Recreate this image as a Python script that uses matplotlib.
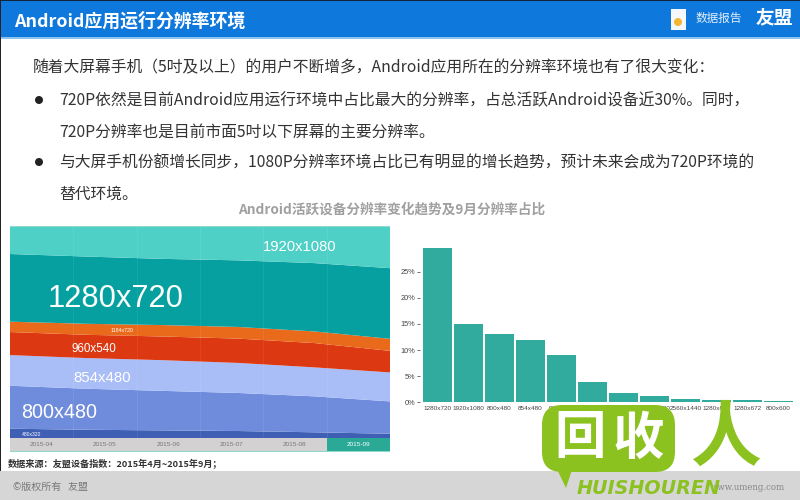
import matplotlib
matplotlib.use("Agg")
import matplotlib.pyplot as plt
from matplotlib.patches import Rectangle, FancyBboxPatch, Polygon, Circle

plt.rcParams['font.family'] = ['Noto Sans CJK SC', 'DejaVu Sans']

months = ["2015-04", "2015-05", "2015-06", "2015-07", "2015-08", "2015-09"]
s480x320 = [4.4, 3.9, 3.6, 3.3, 2.7, 2.0]
s800x480 = [20.3, 19.4, 18.7, 18.0, 17.0, 15.3]
s854x480 = [14.5, 14.5, 14.5, 14.2, 13.7, 13.7]
s960x540 = [10.9, 11.0, 11.2, 11.5, 11.5, 10.2]
s1184x720 = [4.9, 5.2, 5.4, 5.5, 5.5, 5.7]
s1280x720 = [32.0, 31.8, 31.3, 31.5, 32.3, 33.4]
s1920x1080 = [13.1, 14.2, 15.3, 16.1, 17.3, 19.7]
area_colors = ["#3f5fb5", "#6f8cdc", "#a9bdf7", "#dc3812", "#ea6a1c", "#06a0a0", "#4fd0c6"]

res_labels = ["1280x720", "1920x1080", "800x480", "854x480", "960x540", "1184x720",
              "480x320", "1776x1080", "2560x1440", "1280x800", "1280x672", "800x600"]
res_values = [29.6, 14.9, 13.1, 11.9, 9.05, 3.95, 1.7, 1.3, 0.6, 0.45, 0.4, 0.3]
pct_ticks = [0, 5, 10, 15, 20, 25]

W, H = 800, 500
fig = plt.figure(figsize=(8, 5), dpi=100, facecolor="white")


def box(x0, y0, x1, y1):
    return [x0 / W, 1 - y1 / H, (x1 - x0) / W, (y1 - y0) / H]


# stacked area
ax = fig.add_axes(box(10, 226.5, 390, 438))
ax.stackplot(range(len(months)), s480x320, s800x480, s854x480, s960x540, s1184x720,
             s1280x720, s1920x1080, colors=area_colors, linewidth=0)
ax.set_xlim(0, len(months) - 1)
ax.set_ylim(0, 100)
ax.axis("off")
for i in range(1, len(months)):
    ax.axvline(i * (len(months) - 1) / len(months), color="white", alpha=0.07, lw=0.8)

lab = dict(color="white", family=["Liberation Sans", "DejaVu Sans"], va="center", ha="left")

# month strip
st = fig.add_axes(box(10, 438, 390, 451))
st.bar(range(len(months)), [1] * len(months), width=1,
       color=["#d3d1d1"] * 5 + ["#2aa996"], edgecolor="none")
st.set_xlim(-0.5, 5.5)
st.set_ylim(0, 1)
st.axis("off")
for i, m in enumerate(months):
    st.text(i, 0.5, m, ha="center", va="center", fontsize=4.6,
            color="white" if i == 5 else "#777777", family=["Liberation Sans"])

# bars
bx = fig.add_axes(box(420, 245.5, 795, 402.3))
bx.bar(range(len(res_values)), res_values, width=0.95, color="#30ab9d")
bx.set_xlim(-0.56, 11.53)
bx.set_ylim(0, 30)
bx.set_xticks(range(len(res_labels)))
bx.set_xticklabels(res_labels, fontsize=4.6, color="#444444", family=["Liberation Sans"])
bx.set_yticks(pct_ticks)
bx.set_yticklabels([f"{t}%" for t in pct_ticks], fontsize=5.3, color="#444444",
                   family=["Liberation Sans"])
bx.tick_params(axis="x", length=0, pad=3)
bx.tick_params(axis="y", length=2, width=0.6, color="#555555", pad=1.5)
for sp in bx.spines.values():
    sp.set_visible(False)

# page overlay in pixel coordinates
ov = fig.add_axes([0, 0, 1, 1], facecolor="none")
ov.set_xlim(0, W)
ov.set_ylim(H, 0)
ov.axis("off")
ov.set_zorder(5)

ov.add_patch(Rectangle((0, 0), 800, 37, color="#0f78dc", lw=0))
ov.add_patch(Rectangle((0, 37), 800, 1.5, color="#8cc4f0", lw=0))
ov.add_patch(Rectangle((0, 0), 800, 1, color="#12243c", lw=0))
ov.add_patch(Rectangle((0, 0), 1, 500, color="#222222", lw=0))
ov.add_patch(Rectangle((0, 499), 800, 1, color="#222222", lw=0))
ov.add_patch(Rectangle((0, 471), 800, 29, color="#d6d6d6", lw=0))
ov.add_patch(Rectangle((10, 451), 380, 1, color="#8fd8ca", lw=0))
ov.add_patch(Rectangle((10, 226), 380, 0.8, color="#8fd8ca", lw=0))

ov.text(14, 21, "Android应用运行分辨率环境", color="white", fontsize=12.9, fontweight="bold", va="center")
ov.add_patch(Rectangle((671, 9), 15, 21, color="#f4f7fb", lw=0))
ov.add_patch(Circle((678, 22), 4, color="#f2b632", lw=0))
ov.text(695, 18, "数据报告", color="#e3effb", fontsize=8.4, va="center")
ov.text(756, 18, "友盟", color="white", fontsize=13.5, fontweight="bold", va="center")

body = dict(color="#333333", fontsize=11.35, va="center")
ov.text(33, 68, "随着大屏幕手机（5吋及以上）的用户不断增多，Android应用所在的分辨率环境也有了很大变化：", **body)
ov.text(59, 101, "720P依然是目前Android应用运行环境中占比最大的分辨率，占总活跃Android设备近30%。同时，", **body)
ov.text(59, 132, "720P分辨率也是目前市面5吋以下屏幕的主要分辨率。", **body)
ov.text(59, 163, "与大屏手机份额增长同步，1080P分辨率环境占比已有明显的增长趋势，预计未来会成为720P环境的", **body)
ov.text(59, 194, "替代环境。", **body)
ov.add_patch(Circle((39, 100), 4, color="#222222", lw=0))
ov.add_patch(Circle((39, 162), 4, color="#222222", lw=0))
ov.text(392, 210, "Android活跃设备分辨率变化趋势及9月分辨率占比", color="#a0a0a0", fontsize=9.8,
        fontweight="bold", ha="center", va="center")

# area labels
ov.text(263, 247, "1920x1080", fontsize=10.6, **lab)
ov.text(48, 299, "1280x720", fontsize=22.2, **lab)
ov.text(111, 331, "1184x720", fontsize=3.8, **lab)
ov.text(71, 349, "960x540", fontsize=8.4, **lab)
ov.text(73, 378, "854x480", fontsize=10.8, **lab)
ov.text(21, 413, "800x480", fontsize=14.2, **lab)
ov.text(22, 435, "480x320", fontsize=3.6, **lab)

ov.text(8, 464, "数据来源：友盟设备指数：2015年4月~2015年9月；", color="#333333", fontsize=6.6,
        va="center", fontweight="bold")
ov.text(13, 487, "©版权所有   友盟", color="#777777", fontsize=7.2, va="center")
ov.text(785, 487, "www.umeng.com", color="#888888", fontsize=6.2, va="center", ha="right",
        family=["DejaVu Serif"])

# watermark
green = "#8cc21f"
ov.add_patch(FancyBboxPatch((542, 405), 133, 67, boxstyle="round,pad=0,rounding_size=20",
                            mutation_scale=1, facecolor=green, edgecolor="none", lw=0, zorder=6))
ov.add_patch(Polygon([(543, 440), (566, 488), (572, 470), (600, 471)], closed=True,
                     facecolor=green, edgecolor="none", lw=0, zorder=6))
ov.text(580, 438, "回", color="white", fontsize=37, fontweight="black", ha="center",
        va="center", zorder=7)
ov.text(638, 438, "收", color="white", fontsize=37, fontweight="black", ha="center",
        va="center", zorder=7)
ov.text(725, 439, "人", color=green, fontsize=51, fontweight="bold", ha="center",
        va="center", zorder=7)
ov.text(577, 488, "HUISHOUREN", color=green, fontsize=13.8, fontweight="bold", style="italic",
        ha="left", va="center", family=["DejaVu Sans"], zorder=7)

fig.savefig("out.png", dpi=100)
